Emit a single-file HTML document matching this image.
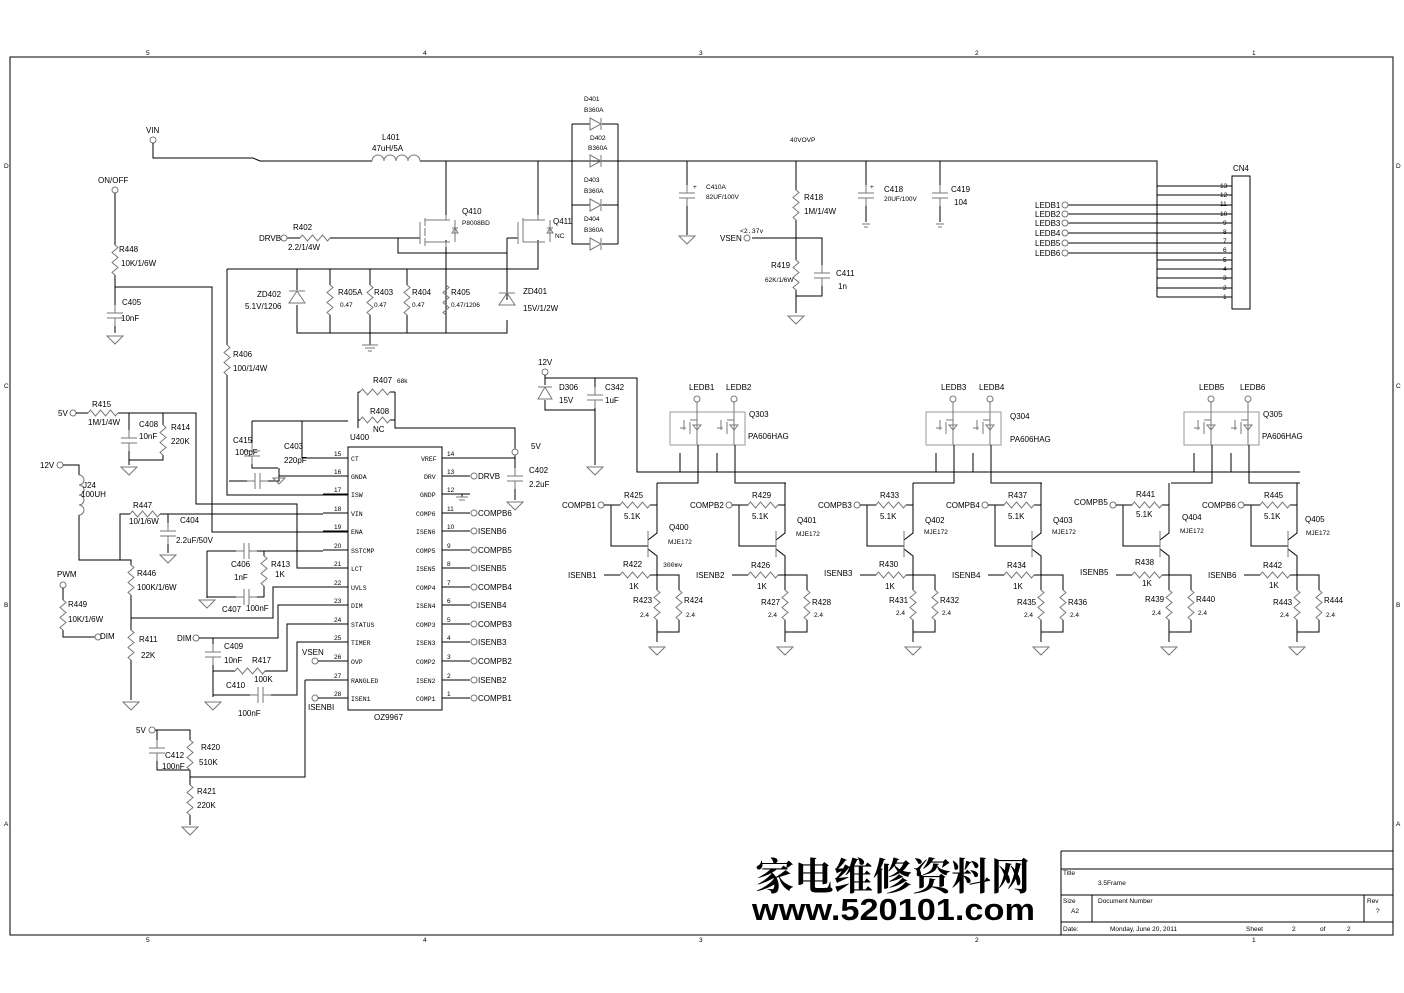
<!DOCTYPE html>
<html><head><meta charset="utf-8"><style>
html,body{margin:0;padding:0;background:#fff;}
svg{display:block;}
text{font-family:"Liberation Sans",sans-serif;font-size:8px;fill:#000;}
.s{font-size:6.5px;}
.m{font-family:"Liberation Mono",monospace;font-size:6.5px;}
.w{fill:none;stroke:#000;stroke-width:1;}
.c{fill:none;stroke:#777;stroke-width:1;}
</style></head><body>
<svg width="1404" height="993" viewBox="0 0 1404 993" xmlns="http://www.w3.org/2000/svg">
<defs>
<g id="gnd" class="c"><path d="M-8 0 h16 l-8 8 z"/></g>
<g id="rv" class="c"><path d="M0 0 l3 2.5 l-6 5 l6 5 l-6 5 l6 5 l-6 5 l3 2.5"/></g>
<g id="rh" class="c"><path d="M0 0 l2.5 -3 l5 6 l5 -6 l5 6 l5 -6 l5 6 l2.5 -3"/></g>
<g id="cv" class="c"><path d="M0 0 V8 M-8 8 h16 M-8 13 h16 M0 13 V21"/></g>
<g id="ch" class="c"><path d="M0 0 H8 M8 -8 v16 M13 -8 v16 M13 0 H21"/></g>
<g id="oc"><circle r="3" fill="#fff" stroke="#777"/></g>
<g id="drv">
 <use href="#oc" x="601" y="505"/>
 <path class="w" d="M604 505 H620 M650 505 H657 M611 505 V546 H648 M648 540 L657 533 V483 M648 549 L657 556 V575 M604 575 H620 M650 575 H679 V590 M657 575 V590 M657 620 V632 H679 V620 M657 632 V642"/>
 <path class="c" d="M648 531 V557" stroke-width="1.5"/>
 <use href="#rh" x="620" y="505"/><use href="#rh" x="620" y="575"/>
 <use href="#rv" x="657" y="590"/><use href="#rv" x="679" y="590"/>
 <use href="#gnd" x="657" y="647"/>
</g>
<g id="qp">
 <rect x="670" y="412" width="75" height="33" fill="none" stroke="#999"/>
 <use href="#oc" x="697" y="399"/><use href="#oc" x="734" y="399"/>
 <path class="c" d="M697 402 V420 H690 M697 420 V445 M734 402 V420 H727 M734 420 V445 M684 420 v10 M721 420 v10 M680 428 h6 M717 428 h6 M690 422 v12 M727 422 v12 M697 430 l-4 -5 h8 z M734 430 l-4 -5 h8 z"/>
 <path class="w" d="M680 453 V472 M717 453 V472 M698 445 V483 H657 M735 445 V483 H786"/>
</g>
</defs>

<rect x="10" y="57" width="1383" height="878" class="w" stroke-width="0.8"/>
<text x="146" y="55" class="s">5</text><text x="423" y="55" class="s">4</text><text x="699" y="55" class="s">3</text><text x="975" y="55" class="s">2</text><text x="1252" y="55" class="s">1</text>
<text x="146" y="942" class="s">5</text><text x="423" y="942" class="s">4</text><text x="699" y="942" class="s">3</text><text x="975" y="942" class="s">2</text><text x="1252" y="942" class="s">1</text>
<text x="4" y="168" class="s">D</text><text x="4" y="388" class="s">C</text><text x="4" y="607" class="s">B</text><text x="4" y="826" class="s">A</text>
<text x="1396" y="168" class="s">D</text><text x="1396" y="388" class="s">C</text><text x="1396" y="607" class="s">B</text><text x="1396" y="826" class="s">A</text>

<path class="w" d="M1061 851 H1393 M1061 851 V935 M1061 869 H1393 M1061 895 H1393 M1061 922 H1393 M1092 895 V922 M1364 895 V922"/>
<text x="1063" y="875" class="s">Title</text><text x="1098" y="885" class="s">3.5Frame</text>
<text x="1063" y="903" class="s">Size</text><text x="1071" y="913" class="s">A2</text>
<text x="1098" y="903" class="s">Document Number</text><text x="1367" y="903" class="s">Rev</text><text x="1376" y="913" class="s">?</text>
<text x="1063" y="931" class="s">Date:</text><text x="1110" y="931" class="s">Monday, June 20, 2011</text>
<text x="1246" y="931" class="s">Sheet</text><text x="1292" y="931" class="s">2</text><text x="1320" y="931" class="s">of</text><text x="1347" y="931" class="s">2</text>
<text x="755" y="890" textLength="275" lengthAdjust="spacingAndGlyphs" style="font-family:'Noto Serif CJK SC','WenQuanYi Zen Hei',serif;font-size:38px;font-weight:bold">家电维修资料网</text>
<text x="752" y="920" textLength="283" lengthAdjust="spacingAndGlyphs" style="font-family:'Liberation Sans',sans-serif;font-size:31px;font-weight:bold">www.520101.com</text>

<use href="#oc" x="153" y="140"/><text x="146" y="133">VIN</text>
<path class="w" d="M153 143 V158 H253 L260 161 H372 M420 161 H1157 V297"/>
<path class="c" d="M372 161 a6 6 0 0 1 12 0 a6 6 0 0 1 12 0 a6 6 0 0 1 12 0 a6 6 0 0 1 12 0"/>
<text x="382" y="140">L401</text><text x="372" y="151">47uH/5A</text>
<path class="w" d="M572 124 V244 M618 124 V244 M572 124 H590 M602 124 H618 M572 205 H590 M602 205 H618 M572 244 H590 M602 244 H618"/>
<g class="c"><path d="M590 118 v12 l11 -6 z M601 118 v12 M590 155 v12 l11 -6 z M601 155 v12 M590 199 v12 l11 -6 z M601 199 v12 M590 238 v12 l11 -6 z M601 238 v12"/></g>
<text x="584" y="101" class="s">D401</text><text x="584" y="112" class="s">B360A</text>
<text x="590" y="140" class="s">D402</text><text x="588" y="150" class="s">B360A</text>
<text x="584" y="182" class="s">D403</text><text x="584" y="193" class="s">B360A</text>
<text x="584" y="221" class="s">D404</text><text x="584" y="232" class="s">B360A</text>
<path class="w" d="M446 161 V215 M538 161 V215 M287 238 H300 M330 238 H420 M398 238 V253 H507 M507 238 V300 M507 238 H518 M446 240 V333 M227 269 H538 V240 M227 269 V345"/>
<g class="c"><path d="M420 222 V244 M425 220 H450 M425 242 H450 M425 218 v8 M425 228 v8 M425 238 v8 M446 215 V220 M446 242 V247 M455 220 V242 M452 228 h6 M455 228 l-3 5 h6 z M518 222 V244 M523 220 H545 M523 242 H545 M538 215 V220 M550 220 V242 M547 228 h6 M550 228 l-3 5 h6 z M523 218 v24"/></g>
<use href="#oc" x="284" y="238"/><text x="259" y="241">DRVB</text>
<use href="#rh" x="300" y="238"/><text x="293" y="230">R402</text><text x="288" y="250">2.2/1/4W</text>
<text x="462" y="214">Q410</text><text x="462" y="225" class="s">P8008BD</text>
<text x="553" y="224">Q411</text><text x="555" y="238" class="s">NC</text>
<path class="w" d="M297 269 V290 M297 305 V333 H507 V320 M330 269 V285 M330 315 V333 M370 269 V285 M370 315 V333 M407 269 V285 M407 315 V333 M446 315 V333 M370 333 V345"/>
<g class="c"><path d="M289 303 h16 l-8 -12 z M289 291 h16 M499 305 h16 l-8 -12 z M499 293 h16"/></g>
<use href="#rv" x="330" y="285"/><use href="#rv" x="370" y="285"/><use href="#rv" x="407" y="285"/><use href="#rv" x="446" y="285"/>
<path class="c" d="M362 345 h16 M365 348 h10 M368 351 h4"/>
<text x="257" y="297">ZD402</text><text x="245" y="309">5.1V/1206</text>
<text x="338" y="295">R405A</text><text x="340" y="307" class="s">0.47</text>
<text x="374" y="295">R403</text><text x="374" y="307" class="s">0.47</text>
<text x="412" y="295">R404</text><text x="412" y="307" class="s">0.47</text>
<text x="451" y="295">R405</text><text x="451" y="307" class="s">0.47/1206</text>
<text x="523" y="294">ZD401</text><text x="523" y="311">15V/1/2W</text>

<path class="w" d="M687 161 V185 M687 206 V235 M796 161 V190 M796 220 V260 M752 238 H822 V265 M796 290 V313 M822 286 V296 H796 M866 161 V185 M866 206 V222 M940 161 V185 M940 206 V222"/>
<use href="#cv" x="687" y="185"/><use href="#gnd" x="687" y="236"/>
<text x="693" y="189" class="s">+</text><text x="706" y="189" class="s">C410A</text><text x="706" y="199" class="s">82UF/100V</text>
<text x="790" y="142" class="s">40VOVP</text>
<use href="#rv" x="796" y="190"/><text x="804" y="200">R418</text><text x="804" y="214">1M/1/4W</text>
<use href="#oc" x="747" y="238"/><text x="720" y="241">VSEN</text><text x="740" y="233" class="m">&lt;2.37v</text>
<use href="#rv" x="796" y="260"/><text x="771" y="268">R419</text><text x="765" y="282" class="s">62K/1/6W</text>
<use href="#cv" x="822" y="265"/><text x="836" y="276">C411</text><text x="838" y="289">1n</text>
<use href="#gnd" x="796" y="316"/>
<use href="#cv" x="866" y="185"/><text x="870" y="189" class="s">+</text><text x="884" y="192">C418</text><text x="884" y="201" class="s">20UF/100V</text>
<path class="c" d="M862 224 h8 M864 227 h4"/>
<use href="#cv" x="940" y="185"/><text x="951" y="192">C419</text><text x="954" y="205">104</text>
<path class="c" d="M936 224 h8 M938 227 h4"/>

<rect x="1232" y="176" width="18" height="133" class="w"/>
<text x="1233" y="171">CN4</text>
<path class="w" d="M1157 186 H1232 M1157 195 H1232 M1157 269 H1232 M1157 278 H1232 M1157 288 H1232 M1157 297 H1232"/>
<path class="w" d="M1068 205 H1232 M1068 214 H1232 M1068 223 H1232 M1068 233 H1232 M1068 243 H1232 M1068 253 H1232 M1157 260 H1232"/>
<text x="1220" y="188" class="s">13</text><text x="1220" y="197" class="s">12</text><text x="1220" y="206" class="s">11</text><text x="1220" y="216" class="s">10</text><text x="1223" y="225" class="s">9</text><text x="1223" y="234" class="s">8</text><text x="1223" y="243" class="s">7</text><text x="1223" y="252" class="s">6</text><text x="1223" y="262" class="s">5</text><text x="1223" y="271" class="s">4</text><text x="1223" y="280" class="s">3</text><text x="1223" y="290" class="s">2</text><text x="1223" y="299" class="s">1</text>
<use href="#oc" x="1065" y="205"/><use href="#oc" x="1065" y="214"/><use href="#oc" x="1065" y="223"/><use href="#oc" x="1065" y="233"/><use href="#oc" x="1065" y="243"/><use href="#oc" x="1065" y="253"/>
<text x="1035" y="208">LEDB1</text><text x="1035" y="217">LEDB2</text><text x="1035" y="226">LEDB3</text><text x="1035" y="236">LEDB4</text><text x="1035" y="246">LEDB5</text><text x="1035" y="256">LEDB6</text>

<text x="98" y="183">ON/OFF</text><use href="#oc" x="115" y="190"/>
<path class="w" d="M115 193 V245 M115 275 V305 M115 326 V333 M115 287 H212 V532 H348"/>
<use href="#rv" x="115" y="245"/><text x="119" y="252">R448</text><text x="121" y="266">10K/1/6W</text>
<use href="#cv" x="115" y="305"/><text x="122" y="305">C405</text><text x="121" y="321">10nF</text><use href="#gnd" x="115" y="336"/>
<use href="#rv" x="227" y="345"/><path class="w" d="M227 375 V495 H348"/>
<text x="233" y="357">R406</text><text x="233" y="371">100/1/4W</text>

<text x="538" y="365">12V</text><use href="#oc" x="545" y="372"/>
<path class="w" d="M545 375 V385 M545 400 V410 H595 M545 378 H637 V472 H1300 M595 378 V387 M595 408 V465"/>
<g class="c"><path d="M538 399 h14 l-7 -12 z M538 387 h14"/></g>
<use href="#cv" x="595" y="387"/><use href="#gnd" x="595" y="467"/>
<text x="559" y="390">D306</text><text x="559" y="403">15V</text><text x="605" y="390">C342</text><text x="605" y="403">1uF</text>

<use href="#qp"/><use href="#qp" transform="translate(256,0)"/><use href="#qp" transform="translate(514,0)"/>
<text x="689" y="390">LEDB1</text><text x="726" y="390">LEDB2</text><text x="749" y="417">Q303</text><text x="748" y="439">PA606HAG</text>
<text x="941" y="390">LEDB3</text><text x="979" y="390">LEDB4</text><text x="1010" y="419">Q304</text><text x="1010" y="442">PA606HAG</text>
<text x="1199" y="390">LEDB5</text><text x="1240" y="390">LEDB6</text><text x="1263" y="417">Q305</text><text x="1262" y="439">PA606HAG</text>
<use href="#drv"/><use href="#drv" transform="translate(128,0)"/><use href="#drv" transform="translate(256,0)"/><use href="#drv" transform="translate(384,0)"/><use href="#drv" transform="translate(512,0)"/><use href="#drv" transform="translate(640,0)"/>
<text x="562" y="508">COMPB1</text><text x="624" y="498">R425</text><text x="624" y="519">5.1K</text><text x="669" y="530">Q400</text><text x="668" y="544" class="s">MJE172</text><text x="568" y="578">ISENB1</text><text x="623" y="567">R422</text><text x="629" y="589">1K</text><text x="663" y="567" class="m">300mv</text><text x="633" y="603">R423</text><text x="640" y="617" class="s">2.4</text><text x="684" y="603">R424</text><text x="686" y="617" class="s">2.4</text>
<text x="690" y="508">COMPB2</text><text x="752" y="498">R429</text><text x="752" y="519">5.1K</text><text x="797" y="523">Q401</text><text x="796" y="536" class="s">MJE172</text><text x="696" y="578">ISENB2</text><text x="751" y="568">R426</text><text x="757" y="589">1K</text><text x="761" y="605">R427</text><text x="768" y="617" class="s">2.4</text><text x="812" y="605">R428</text><text x="814" y="617" class="s">2.4</text>
<text x="818" y="508">COMPB3</text><text x="880" y="498">R433</text><text x="880" y="519">5.1K</text><text x="925" y="523">Q402</text><text x="924" y="534" class="s">MJE172</text><text x="824" y="576">ISENB3</text><text x="879" y="567">R430</text><text x="885" y="589">1K</text><text x="889" y="603">R431</text><text x="896" y="615" class="s">2.4</text><text x="940" y="603">R432</text><text x="942" y="615" class="s">2.4</text>
<text x="946" y="508">COMPB4</text><text x="1008" y="498">R437</text><text x="1008" y="519">5.1K</text><text x="1053" y="523">Q403</text><text x="1052" y="534" class="s">MJE172</text><text x="952" y="578">ISENB4</text><text x="1007" y="568">R434</text><text x="1013" y="589">1K</text><text x="1017" y="605">R435</text><text x="1024" y="617" class="s">2.4</text><text x="1068" y="605">R436</text><text x="1070" y="617" class="s">2.4</text>
<text x="1074" y="505">COMPB5</text><text x="1136" y="497">R441</text><text x="1136" y="517">5.1K</text><text x="1182" y="520">Q404</text><text x="1180" y="533" class="s">MJE172</text><text x="1080" y="575">ISENB5</text><text x="1135" y="565">R438</text><text x="1142" y="586">1K</text><text x="1145" y="602">R439</text><text x="1152" y="615" class="s">2.4</text><text x="1196" y="602">R440</text><text x="1198" y="615" class="s">2.4</text>
<text x="1202" y="508">COMPB6</text><text x="1264" y="498">R445</text><text x="1264" y="519">5.1K</text><text x="1305" y="522">Q405</text><text x="1306" y="535" class="s">MJE172</text><text x="1208" y="578">ISENB6</text><text x="1263" y="568">R442</text><text x="1269" y="588">1K</text><text x="1273" y="605">R443</text><text x="1280" y="617" class="s">2.4</text><text x="1324" y="603">R444</text><text x="1326" y="617" class="s">2.4</text>

<rect x="348" y="447" width="94" height="263" class="w"/>
<text x="350" y="440">U400</text><text x="374" y="720">OZ9967</text>
<path class="w" d="M323 458 H348 M323 476 H348 M323 494 H348 M323 513 H348 M323 531 H348 M323 550 H348 M323 568 H348 M323 587 H348 M323 605 H348 M323 624 H348 M323 642 H348 M323 661 H348 M323 680 H348 M323 698 H348"/>
<path class="w" d="M442 458 H470 M442 476 H470 M442 494 H470 M442 513 H470 M442 531 H470 M442 550 H470 M442 568 H470 M442 587 H470 M442 605 H470 M442 624 H470 M442 642 H470 M442 661 H470 M442 680 H470 M442 698 H470"/>
<text x="334" y="456" class="s">15</text><text x="334" y="474" class="s">16</text><text x="334" y="492" class="s">17</text><text x="334" y="511" class="s">18</text><text x="334" y="529" class="s">19</text><text x="334" y="548" class="s">20</text><text x="334" y="566" class="s">21</text><text x="334" y="585" class="s">22</text><text x="334" y="603" class="s">23</text><text x="334" y="622" class="s">24</text><text x="334" y="640" class="s">25</text><text x="334" y="659" class="s">26</text><text x="334" y="678" class="s">27</text><text x="334" y="696" class="s">28</text>
<text x="447" y="456" class="s">14</text><text x="447" y="474" class="s">13</text><text x="447" y="492" class="s">12</text><text x="447" y="511" class="s">11</text><text x="447" y="529" class="s">10</text><text x="447" y="548" class="s">9</text><text x="447" y="566" class="s">8</text><text x="447" y="585" class="s">7</text><text x="447" y="603" class="s">6</text><text x="447" y="622" class="s">5</text><text x="447" y="640" class="s">4</text><text x="447" y="659" class="s">3</text><text x="447" y="678" class="s">2</text><text x="447" y="696" class="s">1</text>
<text x="351" y="461" class="m">CT</text><text x="351" y="479" class="m">GNDA</text><text x="351" y="497" class="m">ISW</text><text x="351" y="516" class="m">VIN</text><text x="351" y="534" class="m">ENA</text><text x="351" y="553" class="m">SSTCMP</text><text x="351" y="571" class="m">LCT</text><text x="351" y="590" class="m">UVLS</text><text x="351" y="608" class="m">DIM</text><text x="351" y="627" class="m">STATUS</text><text x="351" y="645" class="m">TIMER</text><text x="351" y="664" class="m">OVP</text><text x="351" y="683" class="m">RANGLED</text><text x="351" y="701" class="m">ISEN1</text>
<text x="421" y="461" class="m">VREF</text><text x="424" y="479" class="m">DRV</text><text x="420" y="497" class="m">GNDP</text><text x="416" y="516" class="m">COMP6</text><text x="416" y="534" class="m">ISEN6</text><text x="416" y="553" class="m">COMP5</text><text x="416" y="571" class="m">ISEN5</text><text x="416" y="590" class="m">COMP4</text><text x="416" y="608" class="m">ISEN4</text><text x="416" y="627" class="m">COMP3</text><text x="416" y="645" class="m">ISEN3</text><text x="416" y="664" class="m">COMP2</text><text x="416" y="683" class="m">ISEN2</text><text x="416" y="701" class="m">COMP1</text>
<use href="#oc" x="474" y="476"/><use href="#oc" x="474" y="513"/><use href="#oc" x="474" y="531"/><use href="#oc" x="474" y="550"/><use href="#oc" x="474" y="568"/><use href="#oc" x="474" y="587"/><use href="#oc" x="474" y="605"/><use href="#oc" x="474" y="624"/><use href="#oc" x="474" y="642"/><use href="#oc" x="474" y="661"/><use href="#oc" x="474" y="680"/><use href="#oc" x="474" y="698"/>
<text x="478" y="479">DRVB</text><text x="478" y="516">COMPB6</text><text x="478" y="534">ISENB6</text><text x="478" y="553">COMPB5</text><text x="478" y="571">ISENB5</text><text x="478" y="590">COMPB4</text><text x="478" y="608">ISENB4</text><text x="478" y="627">COMPB3</text><text x="478" y="645">ISENB3</text><text x="478" y="664">COMPB2</text><text x="478" y="683">ISENB2</text><text x="478" y="701">COMPB1</text>
<path class="w" d="M470 458 H515 V468 M515 489 V500 M462 494 V497 M358 392 V428 M395 392 V428 H515 V458 M358 392 H360 M390 392 H395 M358 420 H360 M390 420 H395"/>
<use href="#rh" x="360" y="392"/><use href="#rh" x="360" y="420"/>
<text x="373" y="383">R407</text><text x="397" y="383" class="s">68k</text><text x="370" y="414">R408</text><text x="373" y="432">NC</text>
<use href="#oc" x="515" y="452"/><text x="531" y="449">5V</text>
<use href="#cv" x="515" y="468"/><text x="529" y="473">C402</text><text x="529" y="487">2.2uF</text><use href="#gnd" x="515" y="502"/>
<path class="c" d="M456 497 h12 M459 500 h6"/>
<path class="w" d="M252 421 H348 M302 421 V458 H323 M252 421 V443 M252 464 V468 H278 M229 481 H247 M268 481 H279 V476 H323 M279 468 V476"/>
<use href="#cv" x="252" y="443"/><use href="#ch" x="247" y="481"/>
<text x="233" y="443">C415</text><text x="235" y="455">100pF</text><text x="284" y="449">C403</text><text x="284" y="463">220pF</text>
<path class="c" d="M273 478 h12 l-6 6 z"/>
<use href="#oc" x="73" y="413"/><text x="58" y="416">5V</text>
<path class="w" d="M76 413 H88 M118 413 H196 V504 H297 V568 H323 M129 413 V430 M129 451 V460 H163 V455 M163 413 V425 M129 460 V465"/>
<use href="#rh" x="88" y="413"/><text x="92" y="407">R415</text><text x="88" y="425">1M/1/4W</text>
<use href="#cv" x="129" y="430"/><use href="#rv" x="163" y="425"/><use href="#gnd" x="129" y="467"/>
<text x="139" y="427">C408</text><text x="139" y="439">10nF</text><text x="171" y="430">R414</text><text x="171" y="444">220K</text>
<use href="#oc" x="60" y="465"/><text x="40" y="468">12V</text>
<path class="w" d="M63 465 H79 V475 M79 515 V560 H131 V565 M120 560 V514 H130 M160 514 H323 M168 514 V523 M168 544 V553 M131 595 V618 H273 V587 H323 M131 618 V630 M131 660 V700"/>
<path class="c" d="M79 475 a5 5 0 0 1 0 10 a5 5 0 0 1 0 10 a5 5 0 0 1 0 10 a5 5 0 0 1 0 10"/>
<text x="83" y="488">J24</text><text x="81" y="497">100UH</text>
<use href="#rh" x="130" y="514"/><text x="133" y="508">R447</text><text x="129" y="524">10/1/6W</text>
<use href="#cv" x="168" y="523"/><use href="#gnd" x="168" y="555"/><text x="180" y="523">C404</text><text x="176" y="543">2.2uF/50V</text>
<use href="#rv" x="131" y="565"/><text x="137" y="576">R446</text><text x="137" y="590">100K/1/6W</text>
<use href="#rv" x="131" y="630"/><text x="139" y="642">R411</text><text x="141" y="658">22K</text><use href="#gnd" x="131" y="702"/>
<text x="57" y="577">PWM</text><use href="#oc" x="63" y="585"/>
<path class="w" d="M63 588 V600 M63 630 V637 H95"/>
<use href="#rv" x="63" y="600"/><text x="68" y="607">R449</text><text x="68" y="622">10K/1/6W</text>
<use href="#oc" x="98" y="637"/><text x="100" y="639">DIM</text>
<path class="w" d="M207 551 H236 M257 551 H323 M264 551 V556 M264 586 V597 H257 M236 597 H207 V598 M207 551 V598"/>
<use href="#ch" x="236" y="551"/><use href="#ch" x="236" y="597"/><use href="#rv" x="264" y="556"/><use href="#gnd" x="207" y="600"/>
<text x="231" y="567">C406</text><text x="234" y="580">1nF</text><text x="271" y="567">R413</text><text x="275" y="577">1K</text>
<text x="222" y="612">C407</text><text x="246" y="611">100nF</text>
<use href="#oc" x="196" y="638"/><text x="177" y="641">DIM</text>
<path class="w" d="M199 638 H278 V605 H323 M213 638 V644 M213 665 V697 M213 671 H235 M265 671 H287 V624 H323 M213 695 H250 M271 695 H297 V642 H323 M305 680 H323 M305 680 V777 H190 V785"/>
<use href="#cv" x="213" y="644"/><use href="#rh" x="235" y="671"/><use href="#ch" x="250" y="695"/><use href="#gnd" x="213" y="702"/>
<text x="224" y="649">C409</text><text x="224" y="663">10nF</text><text x="252" y="663">R417</text><text x="254" y="682">100K</text><text x="226" y="688">C410</text><text x="238" y="716">100nF</text>
<use href="#oc" x="315" y="661"/><text x="302" y="655">VSEN</text><path class="w" d="M318 661 H323"/>
<use href="#oc" x="315" y="698"/><text x="308" y="710">ISENBI</text><path class="w" d="M318 698 H323"/>
<use href="#oc" x="152" y="730"/><text x="136" y="733">5V</text>
<path class="w" d="M155 730 H190 V740 M157 730 V740 M157 761 V770 H190 M190 770 V777 M190 815 V825"/>
<use href="#cv" x="157" y="740"/><use href="#rv" x="190" y="740"/>
<text x="165" y="758">C412</text><text x="162" y="769">100nF</text><text x="201" y="750">R420</text><text x="199" y="765">510K</text>
<use href="#rv" x="190" y="785"/><text x="197" y="794">R421</text><text x="197" y="808">220K</text><use href="#gnd" x="190" y="827"/>
</svg>
</body></html>
